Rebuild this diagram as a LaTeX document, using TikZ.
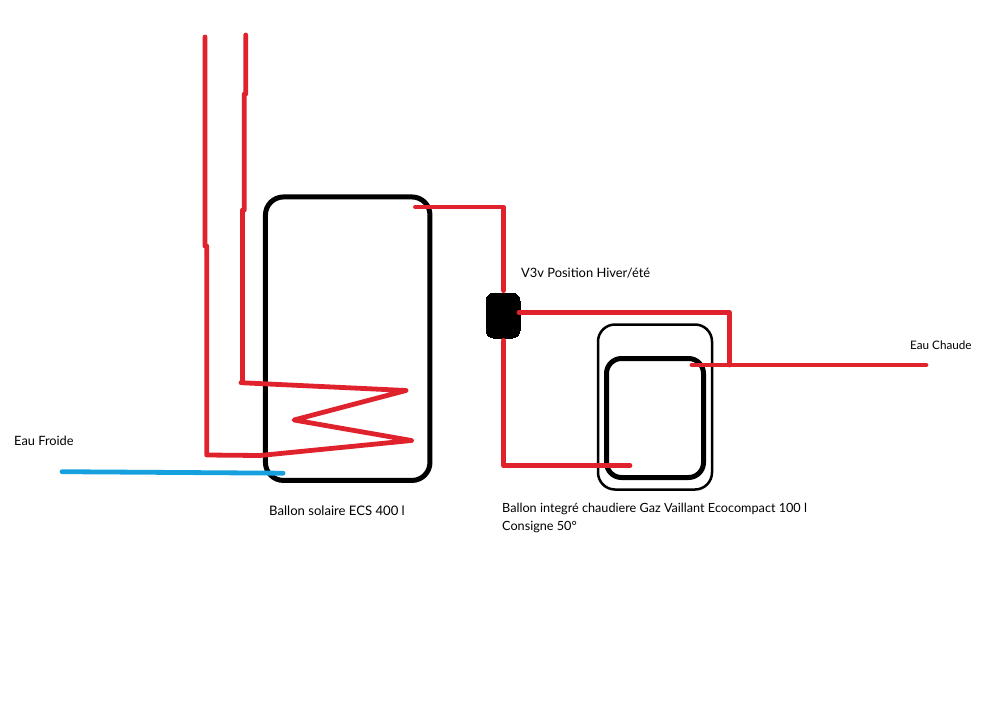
\documentclass[tikz,border=0pt]{standalone}
\usepackage{fontspec}
\setmainfont{Lato}
\definecolor{pipered}{RGB}{224,34,44}
\definecolor{pipeblue}{RGB}{22,160,222}
\tikzset{
  pipe/.style={draw=pipered,line width=4.8pt,line cap=round,line join=round},
  coldpipe/.style={draw=pipeblue,line width=4.8pt,line cap=round,line join=round},
  tank/.style={draw=black,rectangle,rounded corners=#1,inner sep=0pt,outer sep=0pt},
  lbl/.style={anchor=west,inner sep=0pt,font=\fontsize{#1}{18}\selectfont,text=black,align=left},
}
\begin{document}
\begin{tikzpicture}[x=1pt,y=-1pt]
\useasboundingbox (0,0) rectangle (1003,720);
% tanks
\node[tank=18pt,line width=5pt,minimum width=164.5pt,minimum height=283.5pt] (solar) at (347.7,338.7) {};
\node[tank=17pt,line width=2.5pt,minimum width=114pt,minimum height=165pt] (outer) at (655,407) {};
\node[tank=15pt,line width=5pt,minimum width=97pt,minimum height=119pt] (inner) at (655,418) {};
% valve
\node[draw=black,fill=black,rectangle,rounded corners=8pt,line width=0pt,minimum width=34pt,minimum height=45pt,inner sep=0pt] (valve) at (503,315.5) {};
% coordinates
\coordinate (a1) at (205,37);
\coordinate (a2) at (205,246);
\coordinate (a3) at (206.7,246);
\coordinate (a4) at (206.7,455);
\coordinate (a5) at (260,455.5);
\coordinate (a6) at (411.5,440.5);
\coordinate (a7) at (294,420);
\coordinate (a8) at (406,390.5);
\coordinate (a9) at (241,382.7);
\coordinate (a10) at (242.5,382.7);
\coordinate (a11) at (242.5,210);
\coordinate (a12) at (244.3,210);
\coordinate (a13) at (244.3,94);
\coordinate (a14) at (245.7,94);
\coordinate (a15) at (245.7,35);
\coordinate (b1) at (415.5,207);
\coordinate (b2) at (503.5,207);
\coordinate (c1) at (503.5,465.7);
\coordinate (c2) at (630,465.7);
\coordinate (d1) at (519,312.7);
\coordinate (d2) at (729.5,312.7);
\coordinate (d3) at (729.5,365);
\coordinate (e1) at (692,365);
\coordinate (e2) at (926,365);
\coordinate (f1) at (62,471.7);
\coordinate (f2) at (283,473.2);
% pipes
\draw[pipe] (a1) -- (a2) -- (a3) -- (a4) -- (a5) -- (a6) -- (a7) -- (a8) -- (a9) -- (a10) -- (a11) -- (a12) -- (a13) -- (a14) -- (a15);
\draw[pipe,shorten >=2.4pt] (b1) -- (b2) -- (b2 |- valve.north);
\draw[pipe,shorten <=2.4pt] (b2 |- valve.south) -- (c1) -- (c2);
\draw[pipe] (d1) -- (d2) -- (d3);
\draw[pipe] (e1) -- (e2);
\draw[coldpipe] (f1) -- (f2);
% labels
\node[lbl=12.9] (l1) at (521,273) {V3v Position Hiver/été};
\node[lbl=11.7] (l2) at (910,345) {Eau Chaude};
\node[lbl=12.8] (l3) at (14,441) {Eau Froide};
\node[lbl=13.1] (l4) at (269,511) {Ballon solaire ECS 400 l};
\node[lbl=12.65] (l5) at (502,509) {Ballon integré chaudiere Gaz Vaillant Ecocompact 100 l};
\node[lbl=12.65] (l6) at (502,527) {Consigne 50°};
\end{tikzpicture}
\end{document}
